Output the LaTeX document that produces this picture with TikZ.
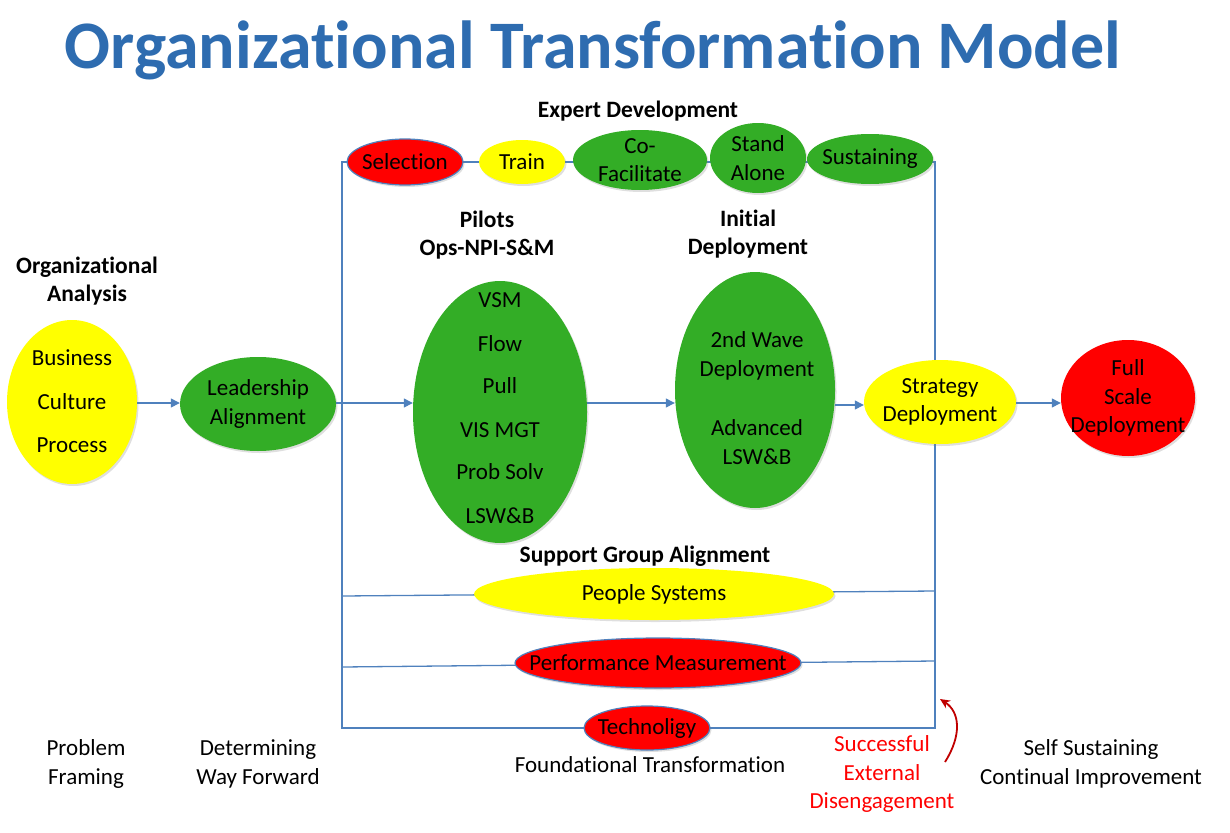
\documentclass[tikz,border=0pt]{standalone}
\usepackage{fontspec}
\setmainfont{Carlito}[Ligatures=NoCommon]
\usetikzlibrary{shapes.geometric,arrows.meta,shadows}
\definecolor{lineblue}{RGB}{79,129,189}
\definecolor{titleblue}{RGB}{46,108,176}
\definecolor{ogreen}{RGB}{51,173,38}
\definecolor{oyellow}{RGB}{255,255,0}
\definecolor{ored}{RGB}{255,0,0}
\definecolor{darkred}{RGB}{192,0,0}
\tikzset{
  ov/.style={ellipse, inner sep=0pt, draw=none, drop shadow={opacity=0.25, shadow xshift=1.5pt, shadow yshift=-2pt}},
  gr/.style={ov, fill=ogreen},
  ye/.style={ov, fill=oyellow},
  re/.style={ov, fill=ored},
  outl/.style={draw=lineblue, line width=1.2pt},
  txt/.style={font=\fontsize{23}{28}\selectfont, align=center, inner sep=0pt},
  txtb/.style={font=\fontsize{23}{28.5}\selectfont, align=center, inner sep=0pt},
  btxt/.style={font=\fontsize{23.5}{28}\selectfont\bfseries, align=center, inner sep=0pt},
  conn/.style={draw=lineblue, line width=1.3pt},
  arr/.style={conn, -{Triangle[length=9pt,width=9pt]}},
}
\begin{document}
\begin{tikzpicture}[x=1pt,y=-1pt]
\useasboundingbox (0,0) rectangle (1230,832);
% title
\node[font=\fontsize{68}{70}\selectfont\bfseries, text=titleblue, inner sep=0pt] (title) at (593,50) {Organizational Transformation Model};
% frame coordinates
\coordinate (tl) at (342,162);
\coordinate (tr) at (935,162);
\coordinate (bl) at (342,728);
\coordinate (br) at (935,728);
\draw[conn] (tl) -- (tr) -- (br) -- (bl) -- cycle;
% support lines
\coordinate (psl) at (342,596);
\coordinate (psr) at (935,591);
\coordinate (pml) at (342,667);
\coordinate (pmr) at (935,661);
\draw[conn] (psl) -- (psr);
\draw[conn] (pml) -- (pmr);

% expert development
\node[btxt] (ed) at (638,111) {Expert Development};
\node[re, outl, minimum width=116pt, minimum height=46pt] (sel) at (405,162) {};
\node[txt] at (sel) {Selection};
\node[ye, minimum width=86pt, minimum height=44pt] (train) at (522,162) {};
\node[txt] at (train) {Train};
\node[gr, minimum width=134pt, minimum height=60pt] (cof) at (640,160) {};
\node[txtb] at (cof) {Co-\\Facilitate};
\node[gr, minimum width=96pt, minimum height=70pt] (sa) at (758,158) {};
\node[txtb] at (sa) {Stand\\Alone};
\node[gr, minimum width=126pt, minimum height=50pt] (sus) at (870,159) {};
\node[txt] at (sus) {Sustaining};

% organizational analysis
\node[btxt] (oa) at (87,281) {Organizational\\Analysis};
\node[ye, minimum width=130pt, minimum height=164pt] (bcp) at (72,402) {};
\node[txt] at (72,358) {Business};
\node[txt] at (72,402) {Culture};
\node[txt] at (72,445) {Process};
\node[gr, minimum width=156pt, minimum height=94pt] (la) at (258,404) {};
\node[txtb] at (la) {Leadership\\Alignment};

% pilots
\node[btxt] (pil) at (487,235) {Pilots\\Ops-NPI-S\&M};
\node[gr, minimum width=174pt, minimum height=262pt] (pe) at (500,412) {};
\node[txt] at (500,300) {VSM};
\node[txt] at (500,344) {Flow};
\node[txt] at (500,386) {Pull};
\node[txt] at (500,430) {VIS MGT};
\node[txt] at (500,472) {Prob Solv};
\node[txt] at (500,516) {LSW\&B};

% initial deployment
\node[btxt] (idl) at (748,234) {Initial\\Deployment};
\node[gr, minimum width=160pt, minimum height=236pt] (ide) at (755,390) {};
\node[txtb] at (757,356) {2nd Wave\\Deployment};
\node[txtb] at (757,442) {Advanced\\LSW\&B};

% strategy & full scale
\node[ye, minimum width=152pt, minimum height=84pt] (sd) at (940,402) {};
\node[txtb] at (sd) {Strategy\\Deployment};
\node[re, minimum width=134pt, minimum height=116pt] (fsd) at (1128,398) {};
\node[txtb] at (fsd) {Full\\Scale\\Deployment};

% arrows
\draw[arr] (bcp.east |- 0,403) -- (la.west |- 0,403);
\draw[arr] (la.east |- 0,403) -- (pe.west |- 0,403);
\draw[arr] (pe.east |- 0,403) -- (ide.west |- 0,403);
\draw[arr] (ide.east |- 0,405) -- (sd.west |- 0,405);
\draw[arr] (sd.east |- 0,403) -- (fsd.west |- 0,403);

% support group
\node[btxt] (sga) at (645,556) {Support Group Alignment};
\node[ye, minimum width=360pt, minimum height=52pt] (ps) at (654,594) {};
\node[txt] at (ps) {People Systems};
\node[re, outl, minimum width=286pt, minimum height=50pt] (pm) at (658,663) {};
\node[txt] at (pm) {Performance Measurement};
\node[re, outl, minimum width=126pt, minimum height=44pt] (tech) at (647,728) {};
\node[txt] at (tech) {Technoligy};

% bottom texts
\node[txtb] (pf) at (86,764) {Problem\\Framing};
\node[txtb] (dwf) at (258,764) {Determining\\Way Forward};
\node[txt] (ft) at (650,765) {Foundational Transformation};
\node[txtb, text=ored] (sed) at (882,774) {Successful\\External\\Disengagement};
\node[txtb] (ssci) at (1091,764) {Self Sustaining\\Continual Improvement};

% red curved arrow
\coordinate (ca) at (945,762);
\coordinate (cb) at (940,699);
\draw[darkred, line width=1.8pt, -{Stealth[length=10pt,width=9pt]}] (ca) .. controls (962,735) and (960,712) .. (cb);
\end{tikzpicture}
\end{document}
